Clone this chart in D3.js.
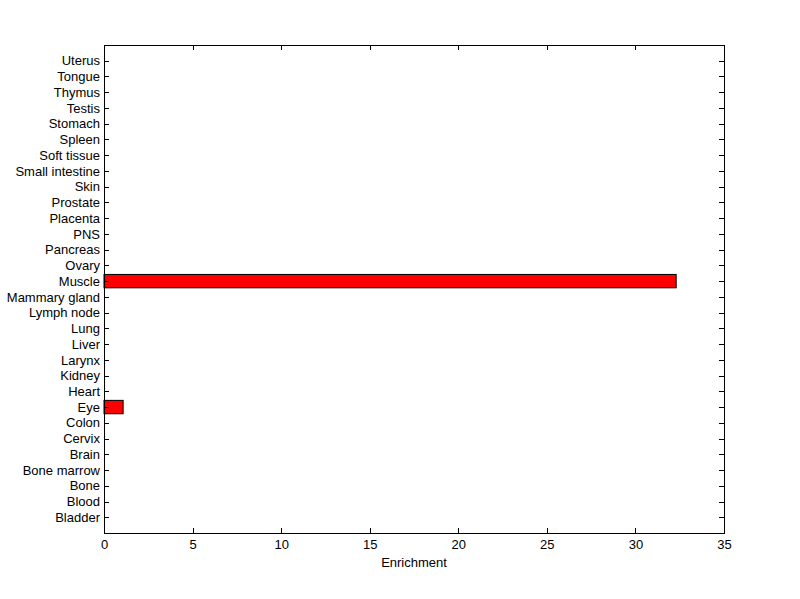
<!DOCTYPE html>
<html>
<head>
<meta charset="utf-8">
<script src="https://cdn.jsdelivr.net/npm/d3@7"></script>
<style>
    body { margin: 0; background: #fff; }
    svg text { font-family: "Liberation Sans", Arial, sans-serif; font-size: 13px; fill: #000; }
    .domain { display: none; }
</style>
</head>
<body>
<div id="chart"></div>
<script>
// Categories, bottom to top
const tissues = ["Bladder", "Blood", "Bone", "Bone marrow", "Brain", "Cervix", "Colon", "Eye",
    "Heart", "Kidney", "Larynx", "Liver", "Lung", "Lymph node", "Mammary gland", "Muscle",
    "Ovary", "Pancreas", "PNS", "Placenta", "Prostate", "Skin", "Small intestine", "Soft tissue",
    "Spleen", "Stomach", "Testis", "Thymus", "Tongue", "Uterus"];
const enrichment = [0, 0, 0, 0, 0, 0, 0, 1.08,
    0, 0, 0, 0, 0, 0, 0, 32.3,
    0, 0, 0, 0, 0, 0, 0, 0,
    0, 0, 0, 0, 0, 0];
const xTicks = [0, 5, 10, 15, 20, 25, 30, 35];

const width = 800;
const height = 599;
const margin = { top: 45, right: 76, bottom: 66, left: 104 };
const w = width - margin.left - margin.right;
const h = height - margin.top - margin.bottom;

const svg = d3.select("#chart")
    .append("svg")
    .attr("width", width)
    .attr("height", height)
    .append("g")
    .attr("transform", `translate(${margin.left}, ${margin.top})`);

const x = d3.scaleLinear().domain([0, 35]).range([0, w]);
const y = d3.scalePoint().domain(tissues).range([h, 0]).padding(1);
const barH = y.step() * 0.85;

// Bars
svg.selectAll("rect.bar")
    .data(tissues.map((t, i) => ({ t, v: enrichment[i] })).filter(d => d.v > 0))
    .enter()
    .append("rect")
    .attr("class", "bar")
    .attr("x", x(0))
    .attr("y", d => y(d.t) - barH / 2)
    .attr("width", d => x(d.v) - x(0))
    .attr("height", barH)
    .attr("fill", "#ff0000")
    .attr("stroke", "#000")
    .attr("stroke-width", 1);

// Axes with inward ticks (left/bottom labelled, top/right mirrored)
const styleAxis = g => g.selectAll(".tick line").attr("stroke", "#000").attr("shape-rendering", "crispEdges");

svg.append("g")
    .attr("transform", `translate(0, ${h})`)
    .call(d3.axisBottom(x).tickValues(xTicks).tickSize(-5).tickPadding(7).tickFormat(d3.format("d")))
    .call(styleAxis);

svg.append("g")
    .call(d3.axisTop(x).tickValues(xTicks).tickSize(-5).tickFormat(""))
    .call(styleAxis);

svg.append("g")
    .call(d3.axisLeft(y).tickSize(-5).tickPadding(4))
    .call(styleAxis);

svg.append("g")
    .attr("transform", `translate(${w}, 0)`)
    .call(d3.axisRight(y).tickSize(-5).tickFormat(""))
    .call(styleAxis);

svg.selectAll(".tick text").style("font-size", "13px").style("font-family", "'Liberation Sans', Arial, sans-serif");

// Plot box
svg.append("rect")
    .attr("x", 0)
    .attr("y", 0)
    .attr("width", w)
    .attr("height", h)
    .attr("fill", "none")
    .attr("stroke", "#000")
    .attr("shape-rendering", "crispEdges");

// Axis label
svg.append("text")
    .attr("x", w / 2)
    .attr("y", h + 34)
    .attr("text-anchor", "middle")
    .text("Enrichment");
</script>
</body>
</html>
